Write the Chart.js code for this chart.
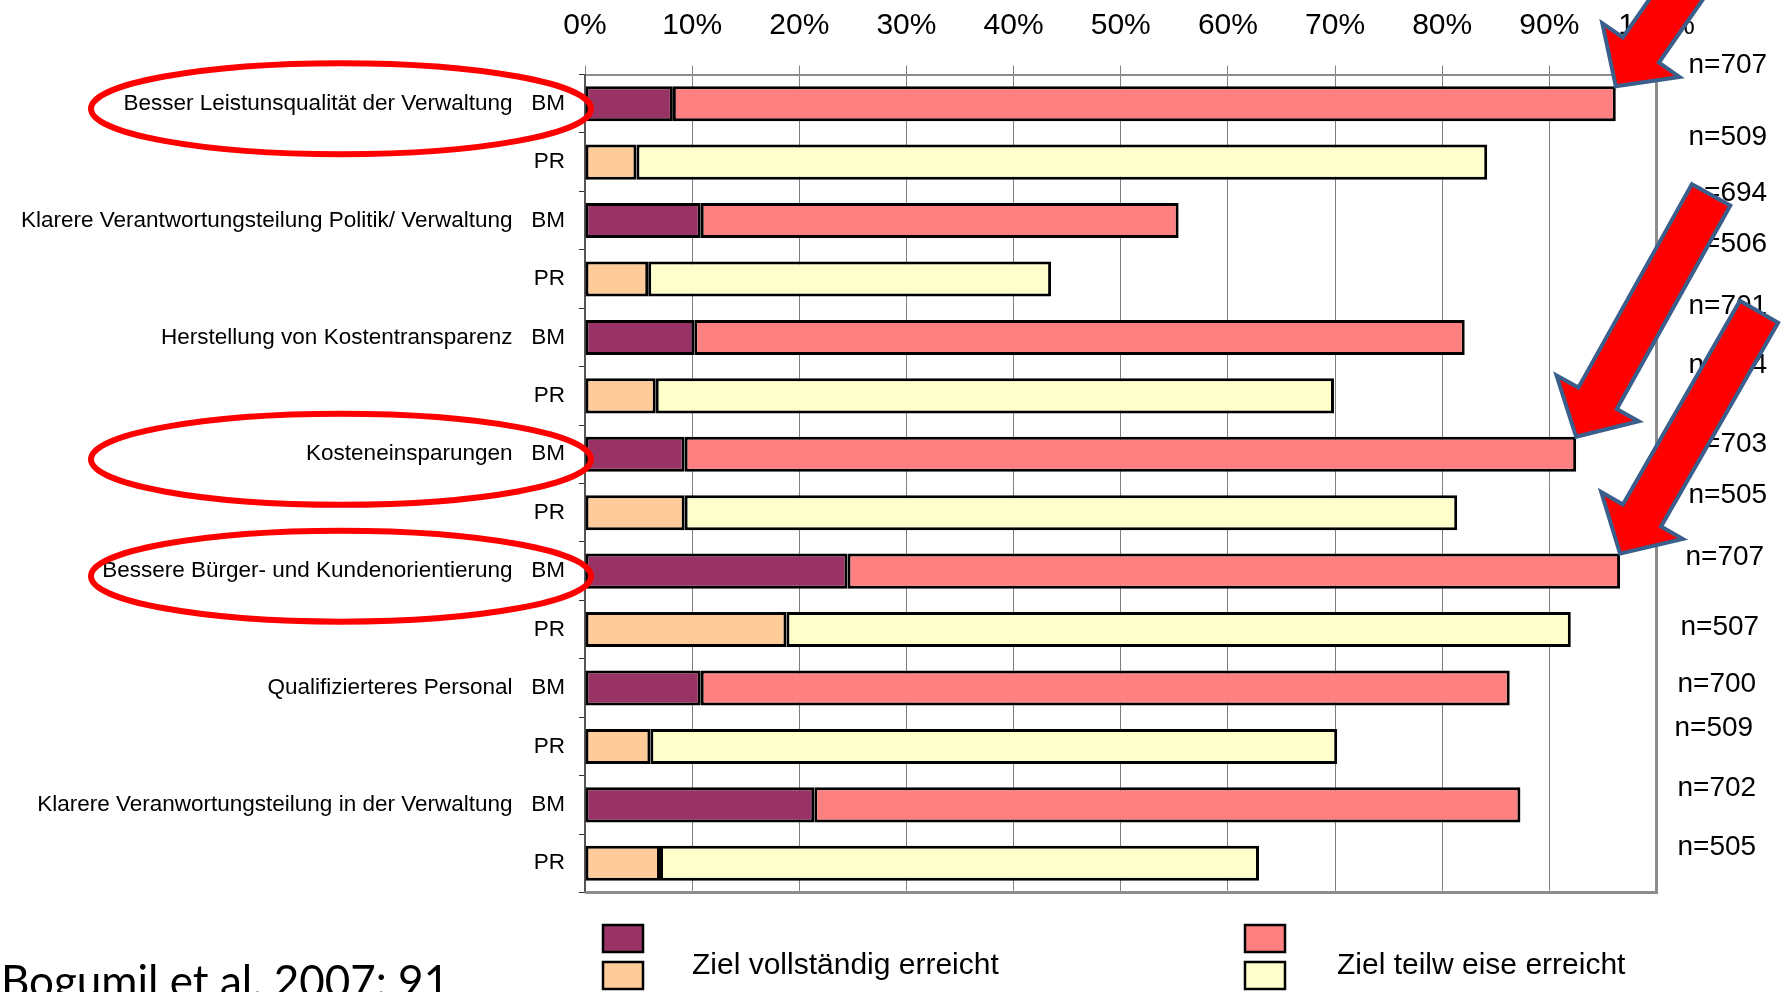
<!DOCTYPE html>
<html lang="de">
<head>
<meta charset="utf-8">
<title>Zielerreichung BM / PR</title>
<script src="https://cdn.jsdelivr.net/npm/chart.js@4.4.1/dist/chart.umd.min.js"></script>
<style>
  html, body { margin: 0; padding: 0; background: #fff; }
  #wrap { width: 1791px; height: 992px; position: relative; overflow: hidden; }
</style>
</head>
<body>
<div id="wrap"><canvas id="barChart" width="1791" height="992"></canvas></div>
<script>
// Row labels (BM / PR pairs)
const categories = [
    'Besser Leistunsqualität der Verwaltung   BM', 'PR',
    'Klarere Verantwortungsteilung Politik/ Verwaltung   BM', 'PR',
    'Herstellung von Kostentransparenz   BM', 'PR',
    'Kosteneinsparungen   BM', 'PR',
    'Bessere Bürger- und Kundenorientierung   BM', 'PR',
    'Qualifizierteres Personal   BM', 'PR',
    'Klarere Veranwortungsteilung in der Verwaltung   BM', 'PR'
];

// Ziel vollständig erreicht (%)
const fullValues = [8.2, 4.8, 10.8, 5.9, 10.2, 6.6, 9.3, 9.3, 24.5, 18.8, 10.8, 6.1, 21.4, 7.0];
// Ziel teilweise erreicht (%)
const partialValues = [88.0, 79.4, 44.6, 37.6, 71.9, 63.3, 83.2, 72.1, 72.1, 73.2, 75.5, 64.1, 65.9, 55.9];

// sample sizes shown to the right
const nLabels = ['n=707', 'n=509', 'n=694', 'n=506', 'n=701', 'n=504', 'n=703',
                 'n=505', 'n=707', 'n=507', 'n=700', 'n=509', 'n=702', 'n=505'];

const seriesNames = ['Ziel vollständig erreicht', 'Ziel teilw eise erreicht'];

// colours: BM rows / PR rows
const bmColors = ['#993366', '#FF8080'];
const prColors = ['#FFCC99', '#FFFFCC'];

// placement of the n= text boxes (px, relative to plot right edge / row centre)
const nShiftX = [32, 32, 32, 32, 32, 32, 32, 32, 29, 24, 21, 18, 21, 21];
const nShiftY = [-38, -25, -27, -35, -31, -31, -10, -17, -14, -2, -4, -18, -17, -16];

// highlighted rows
const circledRows = [0, 6, 8];
const arrows = [
    { row: 0, dir: [0.57, -0.82], len: 330 },
    { row: 6, dir: [0.487, -0.873], len: 277 },
    { row: 8, dir: [0.498, -0.867], len: 279 }
];

const labelFont = '"Liberation Sans", Arial, sans-serif';

function rowColors(k) {
    return categories.map((c, i) => (i % 2 === 0 ? bmColors[k] : prColors[k]));
}

function drawArrow(ctx, tx, ty, dir, len) {
    const m = Math.hypot(dir[0], dir[1]);
    const dx = dir[0] / m, dy = dir[1] / m;
    const px = -dy, py = dx;
    const h = 44, H = 47, s = 22;
    const pts = [[0, 0], [h, H], [h, s], [len, s], [len, -s], [h, -s], [h, -H]];
    ctx.beginPath();
    pts.forEach(([u, v], k) => {
        const X = tx + dx * u + px * v;
        const Y = ty + dy * u + py * v;
        if (k) ctx.lineTo(X, Y); else ctx.moveTo(X, Y);
    });
    ctx.closePath();
    ctx.fillStyle = '#FF0000';
    ctx.fill();
    ctx.lineWidth = 4;
    ctx.lineJoin = 'miter';
    ctx.strokeStyle = '#3A5F8C';
    ctx.stroke();
}

const overlay = {
    id: 'overlay',
    afterDraw(chart) {
        const { ctx, chartArea: a, scales: { y } } = chart;
        ctx.save();

        // right + bottom frame of the plot area
        ctx.strokeStyle = '#8c8c8c';
        ctx.lineWidth = 3;
        ctx.beginPath();
        ctx.moveTo(a.right, a.top);
        ctx.lineTo(a.right, a.bottom);
        ctx.lineTo(a.left, a.bottom);
        ctx.stroke();

        // n= labels
        ctx.font = '28px ' + labelFont;
        ctx.fillStyle = '#000';
        ctx.textAlign = 'left';
        ctx.textBaseline = 'middle';
        nLabels.forEach((t, i) => {
            ctx.fillText(t, a.right + nShiftX[i], y.getPixelForValue(i) + nShiftY[i]);
        });

        // red ellipses round the labels
        ctx.strokeStyle = '#FF0000';
        ctx.lineWidth = 6;
        circledRows.forEach(r => {
            ctx.beginPath();
            ctx.ellipse(a.left - 244, y.getPixelForValue(r) + 5, 250, 45.5, 0, 0, Math.PI * 2);
            ctx.stroke();
        });

        // arrows pointing at bar ends
        const meta = chart.getDatasetMeta(1);
        arrows.forEach(ar => {
            const bar = meta.data[ar.row];
            drawArrow(ctx, bar.x, bar.y - bar.height / 2, ar.dir, ar.len);
        });

        // legend: two swatches stacked per entry
        const legX = [603, 1245];
        const textX = [692, 1337];
        chart.data.datasets.forEach((ds, k) => {
            [0, 1].forEach(j => {
                ctx.fillStyle = ds.backgroundColor[j];
                ctx.fillRect(legX[k], 925 + j * 37, 40, 27);
                ctx.lineWidth = 2.5;
                ctx.strokeStyle = '#000';
                ctx.strokeRect(legX[k], 925 + j * 37, 40, 27);
            });
            ctx.fillStyle = '#000';
            ctx.font = '30px ' + labelFont;
            ctx.textBaseline = 'middle';
            ctx.fillText(ds.label, textX[k], 966);
        });

        // source
        ctx.font = '44px Lato, "Open Sans", sans-serif';
        ctx.textBaseline = 'alphabetic';
        ctx.fillText('Bogumil et al. 2007: 91', 1, 997);

        ctx.restore();
    }
};

document.addEventListener('DOMContentLoaded', function() {
    const ctx = document.getElementById('barChart').getContext('2d');
    new Chart(ctx, {
        type: 'bar',
        data: {
            labels: categories,
            datasets: [
                {
                    label: seriesNames[0],
                    data: fullValues,
                    backgroundColor: rowColors(0),
                    borderColor: '#000',
                    borderWidth: 3,
                    borderSkipped: false
                },
                {
                    label: seriesNames[1],
                    data: partialValues,
                    backgroundColor: rowColors(1),
                    borderColor: '#000',
                    borderWidth: 3,
                    borderSkipped: false
                }
            ]
        },
        options: {
            indexAxis: 'y',
            responsive: false,
            animation: false,
            categoryPercentage: 1,
            barPercentage: 0.6,
            layout: { padding: { left: 0, top: 0, right: 134.5, bottom: 99.5 } },
            plugins: {
                legend: { display: false },
                tooltip: { enabled: false }
            },
            scales: {
                x: {
                    position: 'top',
                    stacked: true,
                    min: 0,
                    max: 100,
                    afterFit: s => { s.height = 74.5; },
                    ticks: {
                        stepSize: 10,
                        color: '#000',
                        padding: 22,
                        font: { family: labelFont, size: 30 },
                        callback: v => v + '%'
                    },
                    grid: { color: '#808080', lineWidth: 1, tickLength: 9 },
                    border: { color: '#8c8c8c', width: 2 }
                },
                y: {
                    stacked: true,
                    afterFit: s => { s.width = 585; },
                    ticks: {
                        color: '#000',
                        padding: 14,
                        font: { family: labelFont, size: 22.5 }
                    },
                    grid: { drawOnChartArea: false, color: '#333', tickLength: 6 },
                    border: { color: '#555', width: 2 }
                }
            }
        },
        plugins: [overlay]
    });
});
</script>
</body>
</html>
